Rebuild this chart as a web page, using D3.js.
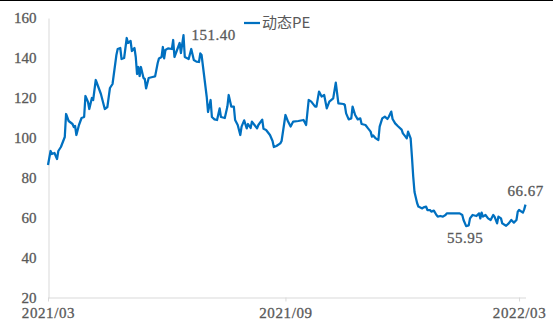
<!DOCTYPE html>
<html>
<head>
<meta charset="utf-8">
<script src="https://cdn.jsdelivr.net/npm/d3@7"></script>
<style>
  html, body { margin: 0; padding: 0; background: #fff; }
  svg { display: block; }
</style>
</head>
<body>
<svg id="chart" width="553" height="324"></svg>
<script>
// Dynamic PE series
const dates = [
  "2021-03-01","2021-03-03","2021-03-04","2021-03-06","2021-03-08","2021-03-09","2021-03-11","2021-03-14",
  "2021-03-15","2021-03-17","2021-03-20","2021-03-21","2021-03-22","2021-03-23","2021-03-25","2021-03-27",
  "2021-03-29","2021-03-30","2021-04-01","2021-04-02","2021-04-04","2021-04-05","2021-04-07","2021-04-09",
  "2021-04-11","2021-04-14","2021-04-16","2021-04-18","2021-04-20","2021-04-23","2021-04-24","2021-04-26",
  "2021-04-27","2021-04-29","2021-05-01","2021-05-02","2021-05-04","2021-05-05","2021-05-07","2021-05-08",
  "2021-05-09","2021-05-10","2021-05-11","2021-05-12","2021-05-14","2021-05-15","2021-05-16","2021-05-18",
  "2021-05-21","2021-05-23","2021-05-25","2021-05-26","2021-05-28","2021-05-29","2021-05-30","2021-05-31",
  "2021-06-02","2021-06-05","2021-06-06","2021-06-07","2021-06-09","2021-06-11","2021-06-12","2021-06-14",
  "2021-06-15","2021-06-18","2021-06-20","2021-06-22","2021-06-24","2021-06-26","2021-06-27","2021-06-28",
  "2021-06-30","2021-07-02","2021-07-03","2021-07-05","2021-07-06","2021-07-08","2021-07-10","2021-07-12",
  "2021-07-13","2021-07-16","2021-07-18","2021-07-19","2021-07-21","2021-07-23","2021-07-24","2021-07-26",
  "2021-07-28","2021-07-29","2021-07-31","2021-08-02","2021-08-03","2021-08-05","2021-08-06","2021-08-08",
  "2021-08-10","2021-08-11","2021-08-14","2021-08-15","2021-08-17","2021-08-20","2021-08-22","2021-08-23",
  "2021-08-25","2021-08-28","2021-08-29","2021-09-01","2021-09-03","2021-09-05","2021-09-07","2021-09-11",
  "2021-09-15","2021-09-17","2021-09-19","2021-09-21","2021-09-24","2021-09-25","2021-09-27","2021-09-29",
  "2021-10-01","2021-10-03","2021-10-05","2021-10-08","2021-10-10","2021-10-12","2021-10-16","2021-10-17",
  "2021-10-18","2021-10-20","2021-10-22","2021-10-23","2021-10-25","2021-10-27","2021-10-29","2021-10-30",
  "2021-11-02","2021-11-04","2021-11-06","2021-11-07","2021-11-08","2021-11-10","2021-11-12","2021-11-13",
  "2021-11-15","2021-11-17","2021-11-19","2021-11-20","2021-11-22","2021-11-23","2021-11-25","2021-11-27",
  "2021-11-30","2021-12-01","2021-12-03","2021-12-04","2021-12-05","2021-12-07","2021-12-08","2021-12-09",
  "2021-12-10","2021-12-12","2021-12-13","2021-12-16","2021-12-17","2021-12-19","2021-12-20","2021-12-22",
  "2021-12-23","2021-12-25","2021-12-27","2021-12-28","2021-12-30","2022-01-01","2022-01-03","2022-01-04",
  "2022-01-07","2022-01-09","2022-01-12","2022-01-14","2022-01-16","2022-01-17","2022-01-19","2022-01-21",
  "2022-01-22","2022-01-24","2022-01-27","2022-01-29","2022-01-30","2022-01-31","2022-02-01","2022-02-03",
  "2022-02-05","2022-02-07","2022-02-09","2022-02-10","2022-02-12","2022-02-13","2022-02-15","2022-02-16",
  "2022-02-18","2022-02-19","2022-02-21","2022-02-23","2022-02-25","2022-02-27","2022-02-28","2022-03-01",
  "2022-03-04","2022-03-05","2022-03-06"
];
const pe = [
  86.5, 93.5, 92, 92.5, 89.5, 93.5, 95.5, 100.5,
  112, 108.5, 107, 105.5, 106, 101.5, 106.5, 110,
  110.5, 121, 118, 114.5, 120, 119, 129, 125.5,
  122, 114.5, 115.5, 125, 127, 141.5, 144.5, 145,
  139.5, 140, 150, 147.5, 148.5, 143.5, 145, 140.5,
  132, 135.5, 131, 135.5, 130, 129.5, 124.8, 130,
  130.5, 130.8, 137.5, 139.8, 140.5, 145.5, 139.8, 144,
  144.8, 144.5, 149, 140.5, 144, 147.5, 142.5, 151.4,
  140.5, 139.5, 144.5, 139, 138.2, 138, 142.3, 141.5,
  131, 120.5, 113, 119, 110.5, 109.3, 109, 114.8,
  110.5, 110, 115.7, 121.5, 115.7, 115.7, 109, 106.5,
  101.5, 105.7, 108.8, 104.8, 107, 105, 108.2, 106.5,
  104.8, 106.5, 109.2, 104.6, 104, 101.5, 98.5, 95.5,
  96, 97.3, 98.5, 111.5, 108.2, 105.7, 108.2, 108.5,
  109, 106.5, 119, 118.2, 115.7, 115.7, 123.2, 120.7,
  121.5, 114.8, 118.2, 119.8, 127.7, 117.3, 117, 116.5,
  112.3, 109.3, 109.8, 115.7, 111.5, 109.3, 109.8, 107,
  106.5, 104.8, 103.2, 100.7, 101.3, 99.8, 99, 105.7,
  109.8, 110.7, 109.5, 110.5, 113.2, 109.5, 107.3, 106,
  104.2, 102.3, 100.7, 99.8, 103.2, 99.8, 90.7, 80.7,
  73, 67.5, 65.7, 64.8, 65.3, 65.7, 64, 64,
  63.2, 63.7, 61.5, 60.7, 61, 60.7, 61.5, 62.3,
  62.3, 62.3, 62.3, 62.3, 61.5, 59, 55.95, 56.3,
  59.8, 61.5, 61, 62.3, 59.8, 62.7, 60.7, 61.5,
  59.8, 59, 61.5, 60.7, 57.3, 60.7, 59.8, 57.3,
  56.5, 56.1, 57.3, 59, 57.7, 59, 63.2, 64,
  62.7, 64.3, 66.67
];
const seriesName = "动态PE";

// Axis ticks
const yTicks = [20, 40, 60, 80, 100, 120, 140, 160];
const xTickDates = ["2021-03-01", "2021-09-01", "2022-03-01"];
const xTickLabels = ["2021/03", "2021/09", "2022/03"];

// Points that carry a value label
const labelDates = ["2021-06-14", "2022-01-19", "2022-03-06"];
const labelPos = ["right", "below", "above"];

const parse = d3.timeParse("%Y-%m-%d");
const data = dates.map((d, i) => ({ date: parse(d), value: pe[i] }));

const svg = d3.select("#chart");
const W = 553, H = 324;

// numeric text look
function numStyle(sel) {
  sel.style("font-family", '"Liberation Serif"')
    .style("font-size", "15px")
    .style("fill", "#595959")
    .style("stroke", "#595959")
    .style("stroke-width", "0.3px");
}

const x = d3.scaleTime()
  .domain([parse("2021-03-01"), parse("2022-03-06")])
  .range([48, 525.5]);
const y = d3.scaleLinear()
  .domain([20, 160])
  .range([298, 18]);

// top frame line
svg.append("line")
  .attr("x1", 0).attr("x2", W)
  .attr("y1", 0.5).attr("y2", 0.5)
  .attr("stroke", "#000").attr("stroke-width", 1);

// y axis
const yAxis = svg.append("g")
  .attr("transform", "translate(48.5,0)")
  .call(d3.axisLeft(y).tickValues(yTicks).tickSize(0).tickPadding(12));
yAxis.select(".domain").attr("stroke", "#d9d9d9");
yAxis.selectAll("text").call(numStyle);

// x axis
const xAxis = svg.append("g")
  .attr("transform", "translate(0,297.5)")
  .call(d3.axisBottom(x)
    .tickValues(xTickDates.map(parse))
    .tickFormat((d, i) => xTickLabels[i])
    .tickSize(4).tickSizeOuter(0).tickPadding(6));
xAxis.select(".domain").attr("stroke", "#d9d9d9");
xAxis.selectAll(".tick line").attr("stroke", "#d9d9d9");
xAxis.selectAll("text").call(numStyle).style("letter-spacing", "0.6px");

// series line
const line = d3.line()
  .x(d => x(d.date))
  .y(d => y(d.value));
svg.append("path")
  .datum(data)
  .attr("fill", "none")
  .attr("stroke", "#0070C0")
  .attr("stroke-width", 2.25)
  .attr("stroke-linejoin", "round")
  .attr("d", line);

// value labels
labelDates.forEach((ds, i) => {
  const d = data.find(p => +p.date === +parse(ds));
  const px = x(d.date), py = y(d.value);
  const t = svg.append("text").call(numStyle).style("letter-spacing", "0.5px")
    .text(d.value.toFixed(2));
  if (labelPos[i] === "right") {
    t.attr("x", px + 8).attr("y", py).attr("dy", "0.35em").attr("text-anchor", "start");
  } else if (labelPos[i] === "below") {
    t.attr("x", px - 1).attr("y", py + 6).attr("dy", "0.71em").attr("text-anchor", "middle");
  } else {
    t.attr("x", px).attr("y", py - 14).attr("dy", "0.35em").attr("text-anchor", "middle");
  }
});

// legend
const lg = svg.append("g").attr("transform", "translate(244,23)");
lg.append("line")
  .attr("x1", 0).attr("x2", 16).attr("y1", 0).attr("y2", 0)
  .attr("stroke", "#0070C0").attr("stroke-width", 2.25);
lg.append("text")
  .attr("x", 18).attr("y", 0).attr("dy", "0.35em")
  .style("font-family", '"Noto Sans CJK SC", sans-serif')
  .style("font-size", "15px")
  .style("fill", "#595959")
  .text(seriesName);
</script>
</body>
</html>
